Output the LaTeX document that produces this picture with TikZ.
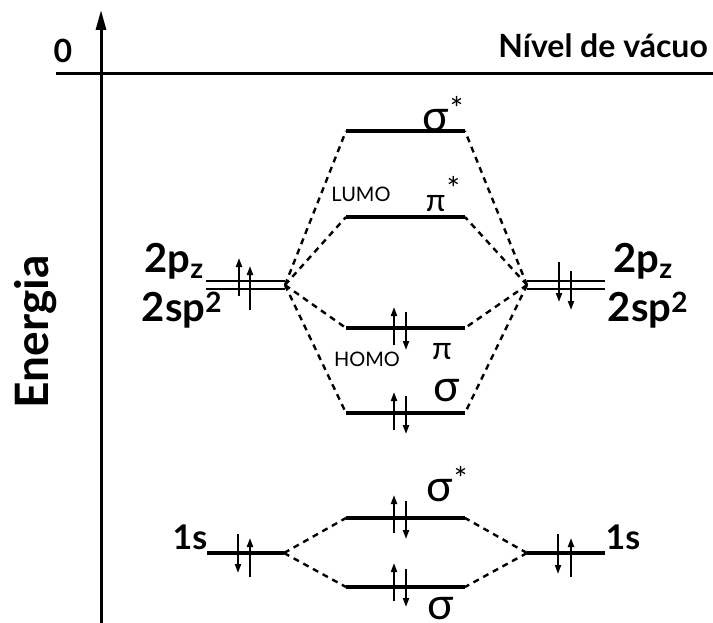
\documentclass[tikz,border=0pt]{standalone}
\usepackage{fontspec}
\setmainfont{Lato}
\usetikzlibrary{arrows.meta}
\newcommand{\myast}{\kern1pt\raisebox{11pt}{\fontsize{32}{32}\selectfont *}}
\begin{document}
\begin{tikzpicture}[x=1pt,y=-1pt,
  lvl/.style={line width=3.2pt},
  dbl/.style={line width=2.6pt},
  conn/.style={line width=2.4pt, dash pattern=on 6pt off 5pt},
  elec/.style={line width=2pt, -{Triangle[length=9pt,width=6pt]}},
  big/.style={font=\fontsize{40}{40}\selectfont\bfseries, inner sep=0pt},
  greek/.style={font=\fontsize{44}{44}\selectfont, inner sep=0pt},
  greekp/.style={font=\fontsize{32}{32}\selectfont, inner sep=0pt},
  small/.style={font=\fontsize{20}{20}\selectfont, inner sep=0pt},
]
\useasboundingbox (0,0) rectangle (713,623);
% axes
\coordinate (axB) at (101,623);
\coordinate (axT) at (101,10);
\draw[line width=3pt, -{Triangle[length=20pt,width=10pt]}] (axB) -- (axT);
\coordinate (vL) at (56,74);
\coordinate (vR) at (713,74);
\draw[line width=3pt] (vL) -- (vR);
\node[font=\fontsize{32}{32}\selectfont\bfseries, inner sep=0pt] (zero) at (63,51) {0};
\node[font=\fontsize{32}{32}\selectfont\bfseries, inner sep=0pt, anchor=east] (vac) at (708,46) {Nível de vácuo};
\node[font=\fontsize{46}{46}\selectfont\bfseries, inner sep=0pt, rotate=90] (en) at (36,332) {Energia};

% molecular levels
\foreach \n/\y in {sA/131, pA/217, pB/328, sB/413, ssA/518, ssB/587}{
  \coordinate (\n1) at (346,\y);
  \coordinate (\n2) at (465,\y);
  \draw[lvl] (\n1) -- (\n2);
}
% atomic 2p/2sp2 double levels
\coordinate (L1) at (206,281); \coordinate (L2) at (285,281);
\coordinate (L3) at (206,289); \coordinate (L4) at (285,289);
\coordinate (R1) at (527,281); \coordinate (R2) at (605,281);
\coordinate (R3) at (527,289); \coordinate (R4) at (605,289);
\draw[dbl] (L1) -- (L2); \draw[dbl] (L3) -- (L4);
\draw[dbl] (R1) -- (R2); \draw[dbl] (R3) -- (R4);
\coordinate (Lc) at (285,285);
\coordinate (Rc) at (527,285);
% 1s levels
\coordinate (sL1) at (207,553); \coordinate (sL2) at (284,553);
\coordinate (sR1) at (527,553); \coordinate (sR2) at (605,553);
\draw[lvl] (sL1) -- (sL2);
\draw[lvl] (sR1) -- (sR2);

% dashed connectors
\foreach \n in {sA,pA,pB,sB}{
  \draw[conn] (Lc) -- (\n1);
  \draw[conn] (Rc) -- (\n2);
}
\foreach \n in {ssA,ssB}{
  \draw[conn] (sL2) -- (\n1);
  \draw[conn] (sR1) -- (\n2);
}

% electrons
\draw[elec] (239,296) -- (239,258);
\draw[elec] (250,310) -- (250,266);
\draw[elec] (559,262) -- (559,302);
\draw[elec] (571,271) -- (571,310);
\foreach \yt/\yd in {307/312, 392/396, 495/501, 563/569}{
  \draw[elec] (394,\yt+38) -- (394,\yt);
  \draw[elec] (406,\yd) -- (406,\yd+38);
}
\draw[elec] (238,534) -- (238,573);
\draw[elec] (250,577) -- (250,538);
\draw[elec] (558,534) -- (558,574);
\draw[elec] (571,577) -- (571,538);

% labels
\node[greek] (lsA) at (443,114) {σ\myast};
\node[greekp] (lpA) at (443,194) {π\myast};
\node[small] (lumo) at (361,194) {LUMO};
\node[greekp] (lpB) at (442,352) {π};
\node[small] (homo) at (367,359) {HOMO};
\node[greek] (lsB) at (447,391) {σ};
\node[greek] (lssA) at (447,484) {σ\myast};
\node[greek, anchor=base, text height=20pt, text depth=0pt] (lssB) at (441,619) {σ};

\node[big] (l2pz) at (174,261) {2p\textsubscript{z}};
\node[big] (l2sp) at (182,310) {2sp\textsuperscript{2}};
\node[big] (r2pz) at (643,261) {2p\textsubscript{z}};
\node[big] (r2sp) at (648,310) {2sp\textsuperscript{2}};
\node[font=\fontsize{34}{34}\selectfont\bfseries, inner sep=0pt] (l1s) at (190,537) {1s};
\node[font=\fontsize{34}{34}\selectfont\bfseries, inner sep=0pt] (r1s) at (623,537) {1s};
\end{tikzpicture}
\end{document}
